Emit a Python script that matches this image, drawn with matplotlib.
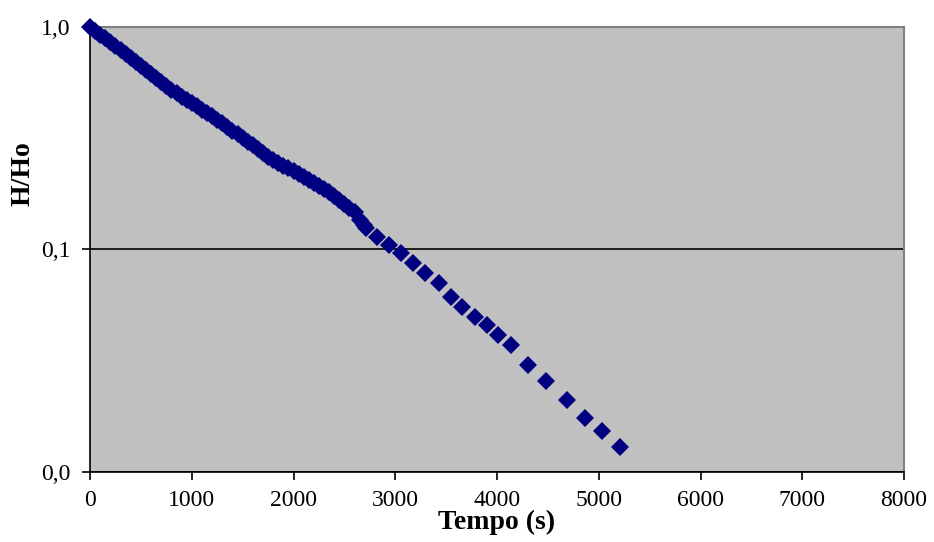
import numpy as np
import matplotlib
matplotlib.use("Agg")
import matplotlib.pyplot as plt
from matplotlib.ticker import FixedLocator, FixedFormatter, NullLocator

# tempo [s] and H/Ho
tempo_denso = [0, 50, 100, 150, 200, 250, 300, 350, 400, 450, 500, 550, 600,
               650, 700, 750, 800, 850, 900, 950, 1000, 1050, 1100, 1150, 1200,
               1250, 1300, 1350, 1400, 1450, 1500, 1550, 1600, 1650, 1700, 1750,
               1800, 1850, 1900, 1950, 2000, 2050, 2100, 2150, 2200, 2250, 2300,
               2350, 2400, 2450, 2500, 2550, 2600, 2650, 2690]
hh_denso = [1.000, 0.961, 0.924, 0.888, 0.854, 0.821, 0.788, 0.756, 0.725,
            0.695, 0.666, 0.639, 0.612, 0.588, 0.565, 0.543, 0.522, 0.502,
            0.483, 0.468, 0.453, 0.439, 0.425, 0.411, 0.397, 0.382, 0.368,
            0.355, 0.342, 0.330, 0.318, 0.305, 0.293, 0.282, 0.271, 0.260,
            0.252, 0.245, 0.238, 0.231, 0.225, 0.219, 0.212, 0.205, 0.199,
            0.193, 0.187, 0.181, 0.174, 0.167, 0.160, 0.154, 0.147, 0.136, 0.128]
tempo_esparso = [2713, 2821, 2934, 3056, 3176, 3291, 3431, 3546, 3660, 3781,
                 3899, 4013, 4134, 4307, 4483, 4689, 4860, 5032, 5213]
hh_esparso = [0.1243, 0.1132, 0.1045, 0.0959, 0.0865, 0.0780, 0.0703, 0.0608,
              0.0548, 0.0494, 0.0455, 0.0410, 0.0370, 0.0303, 0.0255, 0.0211,
              0.0175, 0.0153, 0.0129]

xticks = [0, 1000, 2000, 3000, 4000, 5000, 6000, 7000, 8000]
yticks = [0.01, 0.1, 1.0]
ylabels = ["0,0", "0,1", "1,0"]

plt.rcParams["font.family"] = "Liberation Serif"

fig = plt.figure(figsize=(9.34, 5.42), dpi=100)
ax = fig.add_axes([0.0964, 0.1297, 0.8715, 0.8207])
ax.set_facecolor("#c0c0c0")

tempo = tempo_denso + tempo_esparso
hh = hh_denso + hh_esparso
ax.plot(tempo, hh, "D", color="#000080", markersize=9, markeredgewidth=0,
        clip_on=False, zorder=3)

ax.set_yscale("log")
ax.set_xlim(0, 8000)
ax.set_ylim(0.01, 1.0)
ax.yaxis.set_major_locator(FixedLocator(yticks))
ax.yaxis.set_major_formatter(FixedFormatter(ylabels))
ax.yaxis.set_minor_locator(NullLocator())
ax.set_xticks(xticks)
ax.grid(True, axis="y", color="black", linewidth=1.2)
ax.tick_params(axis="both", direction="out", length=6, width=1.2,
               labelsize=17, color="black")
ax.tick_params(axis="x", pad=7)
ax.tick_params(axis="y", pad=8)

for s in ["top", "right"]:
    ax.spines[s].set_color("#808080")
    ax.spines[s].set_linewidth(1.5)
for s in ["left", "bottom"]:
    ax.spines[s].set_color("black")
    ax.spines[s].set_linewidth(1.2)

fig.text(0.532, 0.037, "Tempo (s)", ha="center", va="center",
         fontsize=20, fontweight="bold")
fig.text(0.025, 0.679, "H/Ho", ha="center", va="center", rotation=90,
         fontsize=20, fontweight="bold")

fig.savefig("out.png", dpi=100)
